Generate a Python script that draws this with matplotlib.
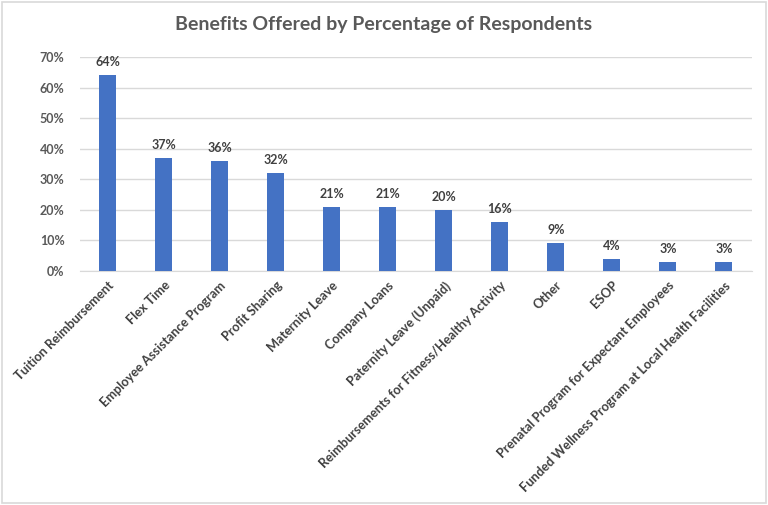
import matplotlib
matplotlib.use("Agg")
import matplotlib.pyplot as plt
from matplotlib.patches import Rectangle

categories = ["Tuition Reimbursement", "Flex Time", "Employee Assistance Program",
              "Profit Sharing", "Maternity Leave", "Company Loans",
              "Paternity Leave (Unpaid)", "Reimbursements for Fitness/Healthy Activity",
              "Other", "ESOP", "Prenatal Program for Expectant Employees",
              "Funded Wellness Program at Local Health Facilities"]
values = [64, 37, 36, 32, 21, 21, 20, 16, 9, 4, 3, 3]
yticks = [0, 10, 20, 30, 40, 50, 60, 70]

plt.rcParams['font.family'] = ['Lato', 'DejaVu Sans']
gray = '#595959'

fig = plt.figure(figsize=(7.68, 5.05), dpi=100)
ax = fig.add_axes([0.104, 0.4634, 0.875, 0.4237])

x = range(len(categories))
ax.bar(x, values, width=0.3, color='#4472C4', zorder=3)
for i, v in zip(x, values):
    ax.text(i, v + 2.3, f"{v}%", ha='center', va='bottom', fontsize=9,
            fontweight='bold', color='#404040')

ax.set_xlim(-0.5, len(categories) - 0.5)
ax.set_ylim(0, 70)
ax.set_yticks(yticks)
ax.set_yticklabels([f"{t}%" for t in yticks], fontsize=9, fontweight='bold', color=gray)
ax.set_xticks(list(x))
ax.set_xticklabels(categories, rotation=45, ha='right', rotation_mode='anchor',
                   fontsize=9.2, fontweight='bold', color='#404040')
ax.tick_params(axis='x', length=0, pad=6)
ax.tick_params(axis='y', length=0, pad=11)
ax.grid(axis='y', color='#D9D9D9', linewidth=1, zorder=0)
for s in ['top', 'right', 'left']:
    ax.spines[s].set_visible(False)
ax.spines['bottom'].set_color('#D9D9D9')

fig.text(0.5, 0.951, "Benefits Offered by Percentage of Respondents", ha='center',
         va='center', fontsize=14, fontweight='bold', color=gray)

fig.patches.append(Rectangle((0.002, 0.003), 0.996, 0.994, transform=fig.transFigure,
                             fill=False, edgecolor='#D9D9D9', linewidth=1.2))

fig.savefig("out.png", dpi=100)
